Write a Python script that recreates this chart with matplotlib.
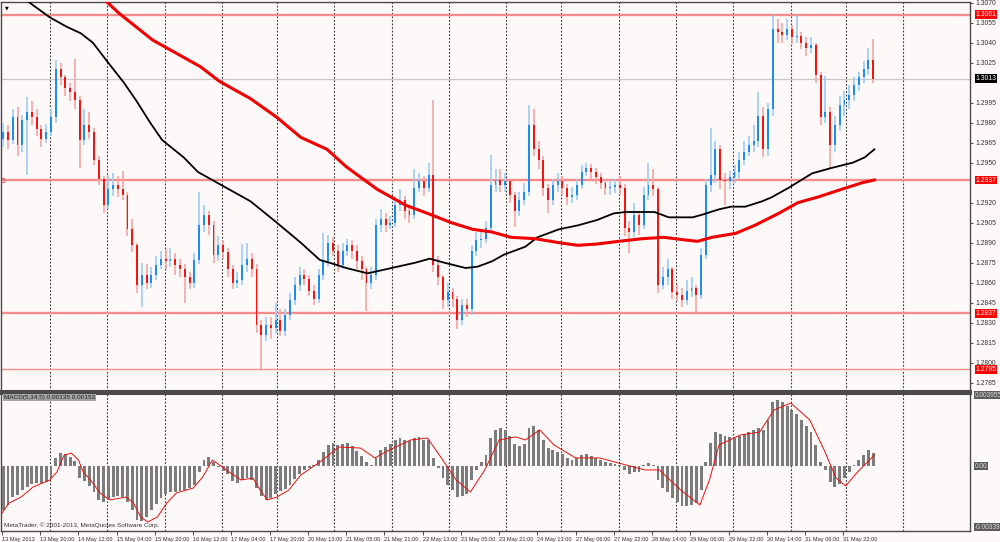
import numpy as np
import matplotlib.pyplot as plt
from matplotlib import font_manager
from matplotlib.transforms import blended_transform_factory

# EURUSD, 2-hour candles; prices in 1/10000
p_open = [12968, 12973, 12967, 12984, 12963, 12982, 12988, 12984, 12975, 12968,
          12973, 12984, 13020, 13014, 13006, 13003, 12997, 12967, 12978, 12973,
          12952, 12938, 12918, 12930, 12933, 12930, 12926, 12900, 12888, 12858,
          12866, 12860, 12866, 12873, 12878, 12876, 12878, 12873, 12870, 12864,
          12860, 12877, 12903, 12911, 12903, 12881, 12888, 12883, 12870, 12860,
          12862, 12873, 12878, 12870, 12828, 12821, 12828, 12826, 12832, 12824,
          12836, 12847, 12858, 12866, 12863, 12854, 12848, 12866, 12876, 12890,
          12884, 12873, 12884, 12888, 12884, 12876, 12870, 12860, 12866, 12903,
          12908, 12903, 12905, 12918, 12922, 12914, 12911, 12931, 12936, 12931,
          12941, 12873, 12864, 12847, 12853, 12848, 12832, 12843, 12840, 12884,
          12892, 12893, 12901, 12933, 12937, 12933, 12936, 12926, 12914, 12922,
          12928, 12978, 12960, 12952, 12931, 12922, 12933, 12936, 12931, 12924,
          12926, 12933, 12943, 12946, 12943, 12939, 12935, 12931, 12932, 12933,
          12931, 12901, 12898, 12911, 12903, 12926, 12933, 12930, 12858, 12864,
          12870, 12853, 12851, 12847, 12854, 12856, 12851, 12881, 12933, 12941,
          12960, 12937, 12936, 12939, 12943, 12952, 12958, 12963, 12966, 12985,
          12960, 12990, 13050, 13048, 13046, 13050, 13044, 13045, 13040, 13036,
          13038, 13016, 12984, 12988, 12963, 12978, 12993, 12997, 13001, 13008,
          13014, 13020, 13027]
p_high = [12980, 12978, 12990, 12992, 12986, 12999, 12996, 12990, 12978, 12979,
          12990, 13027, 13025, 13016, 13010, 13028, 13000, 12990, 12988, 12976,
          12955, 12940, 12941, 12942, 12940, 12944, 12928, 12908, 12890, 12875,
          12874, 12872, 12880, 12884, 12885, 12886, 12882, 12878, 12874, 12868,
          12882, 12928, 12918, 12914, 12906, 12895, 12892, 12886, 12873, 12868,
          12889, 12890, 12882, 12874, 12832, 12834, 12834, 12845, 12840, 12840,
          12852, 12864, 12872, 12870, 12866, 12858, 12870, 12897, 12896, 12894,
          12888, 12890, 12893, 12892, 12888, 12880, 12872, 12872, 12908, 12915,
          12912, 12910, 12925, 12930, 12925, 12918, 12945, 12942, 12940, 12950,
          12997, 12880, 12866, 12860, 12856, 12850, 12848, 12848, 12888, 12898,
          12900, 12906, 12956, 12945, 12945, 12942, 12938, 12928, 12928, 12935,
          12993, 12990, 12966, 12955, 12934, 12938, 12942, 12940, 12934, 12932,
          12938, 12948, 12950, 12949, 12946, 12942, 12938, 12937, 12938, 12940,
          12934, 12906, 12920, 12914, 12932, 12950, 12945, 12932, 12872, 12878,
          12872, 12858, 12856, 12862, 12864, 12858, 12886, 12938, 12976, 12966,
          12963, 12942, 12944, 12948, 12958, 12966, 12970, 12978, 13003, 12992,
          12995, 13061, 13058, 13055, 13058, 13053, 13061, 13048, 13044, 13044,
          13040, 13018, 13015, 12992, 12985, 13000, 13004, 13008, 13014, 13018,
          13026, 13036, 13043]
p_low = [12962, 12960, 12964, 12955, 12958, 12941, 12978, 12970, 12962, 12965,
         12970, 12980, 13008, 13000, 12996, 12990, 12946, 12963, 12968, 12948,
         12933, 12912, 12915, 12925, 12924, 12922, 12895, 12883, 12852, 12842,
         12855, 12856, 12862, 12870, 12870, 12872, 12866, 12864, 12845, 12855,
         12856, 12874, 12898, 12896, 12875, 12876, 12878, 12864, 12855, 12856,
         12858, 12868, 12864, 12822, 12795, 12816, 12818, 12822, 12820, 12820,
         12832, 12843, 12854, 12858, 12850, 12843, 12845, 12862, 12872, 12880,
         12868, 12870, 12880, 12878, 12870, 12862, 12839, 12855, 12862, 12898,
         12898, 12900, 12902, 12914, 12908, 12905, 12908, 12928, 12925, 12928,
         12868, 12858, 12840, 12842, 12842, 12825, 12828, 12834, 12836, 12880,
         12886, 12890, 12898, 12928, 12928, 12928, 12920, 12902, 12910, 12918,
         12925, 12955, 12945, 12925, 12912, 12918, 12928, 12926, 12918, 12920,
         12922, 12930, 12940, 12938, 12934, 12930, 12926, 12926, 12927, 12926,
         12895, 12882, 12894, 12896, 12900, 12922, 12925, 12852, 12855, 12858,
         12848, 12846, 12842, 12843, 12849, 12837, 12848, 12878, 12928, 12935,
         12930, 12918, 12930, 12935, 12938, 12948, 12955, 12958, 12962, 12954,
         12955, 12985, 13040, 13040, 13042, 13039, 13040, 13035, 13030, 13032,
         13010, 12978, 12980, 12946, 12958, 12974, 12985, 12990, 12996, 13004,
         13010, 13016, 13010]
p_close = [12973, 12967, 12984, 12963, 12982, 12988, 12984, 12975, 12968, 12973,
           12984, 13020, 13014, 13006, 13003, 12997, 12967, 12978, 12973, 12952,
           12938, 12918, 12930, 12933, 12930, 12926, 12900, 12888, 12858, 12866,
           12860, 12866, 12873, 12878, 12876, 12878, 12873, 12870, 12864, 12860,
           12877, 12903, 12911, 12903, 12881, 12888, 12883, 12870, 12860, 12862,
           12873, 12878, 12870, 12828, 12821, 12828, 12826, 12832, 12824, 12836,
           12847, 12858, 12866, 12863, 12854, 12848, 12866, 12876, 12890, 12884,
           12873, 12884, 12888, 12884, 12876, 12870, 12860, 12866, 12903, 12908,
           12903, 12905, 12918, 12922, 12914, 12911, 12931, 12936, 12931, 12941,
           12873, 12864, 12847, 12853, 12848, 12832, 12843, 12840, 12884, 12892,
           12893, 12901, 12933, 12937, 12933, 12936, 12926, 12914, 12922, 12928,
           12978, 12960, 12952, 12931, 12922, 12933, 12936, 12931, 12924, 12926,
           12933, 12943, 12946, 12943, 12939, 12935, 12931, 12932, 12933, 12931,
           12901, 12898, 12911, 12903, 12926, 12933, 12930, 12858, 12864, 12870,
           12853, 12851, 12847, 12854, 12856, 12851, 12881, 12933, 12941, 12960,
           12937, 12936, 12939, 12943, 12952, 12958, 12963, 12966, 12985, 12960,
           12990, 13050, 13048, 13046, 13050, 13044, 13045, 13040, 13036, 13038,
           13016, 12984, 12988, 12963, 12978, 12993, 12997, 13001, 13008, 13014,
           13020, 13027, 13013]

# moving averages (hour index, price 1/10000)
ma_black_h = [0, 10, 20, 27, 33, 38, 44, 51, 56, 62, 67, 76, 82, 88, 97, 104, 115, 125, 133, 137,
              144, 153, 163, 173, 179, 185, 194, 199, 205, 210, 219, 224, 233, 241, 249, 256, 261, 273, 279, 289,
              293, 300, 305, 311, 318, 322, 329, 339, 347, 356, 361, 365]
ma_black = [13082, 13072, 13059, 13052, 13047, 13040, 13026, 13010, 12997, 12980,
            12967, 12954, 12943, 12937, 12928, 12921, 12905, 12890, 12877, 12875,
            12871, 12867, 12871, 12875, 12878, 12875, 12871, 12872, 12876, 12881,
            12887, 12894, 12900, 12903, 12907, 12912, 12913, 12913, 12909, 12909,
            12911, 12915, 12917, 12917, 12921, 12924, 12931, 12942, 12946, 12950,
            12954, 12960]
ma_red_h = [37, 43, 49, 56, 63, 70, 77, 83, 91, 104, 115, 125, 136, 144, 157, 169, 178, 188, 197, 205,
            213, 223, 233, 241, 249, 258, 268, 277, 286, 291, 297, 307, 315, 325, 333, 341, 353, 360, 365]
ma_red = [13082, 13072, 13062, 13052, 13042, 13035, 13028, 13022, 13011, 12998,
          12984, 12969, 12960, 12947, 12930, 12918, 12912, 12905, 12900, 12898,
          12894, 12893, 12890, 12888, 12889, 12891, 12893, 12894, 12892, 12891,
          12894, 12897, 12903, 12912, 12920, 12924, 12931, 12935, 12937]

# MACD histogram per candle and signal line, units of 1e-5
macd_hist = [-245, -217, -173, -162, -134, -117, -100, -95, -95, -89,
             -61, 45, 72, 67, 50, 28, -67, -84, -111, -145,
             -189, -201, -184, -173, -167, -173, -201, -245, -301, -306,
             -284, -245, -212, -178, -156, -145, -145, -139, -134, -123,
             -106, -33, 33, 50, 22, -6, -28, -45, -84, -95,
             -78, -67, -78, -123, -167, -189, -178, -156, -139, -128,
             -106, -72, -45, -22, -11, 6, 33, 78, 117, 128,
             117, 123, 128, 111, 84, 56, 22, 6, 45, 89,
             106, 123, 145, 156, 145, 139, 156, 162, 145, 145,
             45, -11, -67, -106, -134, -173, -167, -156, -78, -22,
             22, 61, 156, 201, 212, 201, 167, 123, 111, 123,
             212, 223, 201, 145, 100, 89, 78, 67, 45, 33,
             45, 61, 67, 56, 45, 33, 22, 17, 11, 6,
             -22, -45, -33, -33, 6, 17, 6, -78, -123, -145,
             -178, -201, -223, -223, -217, -206, -134, 22, 128, 189,
             178, 167, 162, 156, 167, 178, 189, 201, 212, 201,
             256, 356, 368, 356, 334, 312, 290, 256, 223, 189,
             117, 22, -22, -89, -117, -100, -67, -33, 6, 33,
             61, 89, 72]
signal_h = [0, 3, 8, 13, 20, 23, 26, 29, 32, 34, 37, 41, 45, 52, 55, 58, 61, 65, 69, 73,
            80, 84, 88, 91, 95, 100, 105, 108, 111, 115, 120, 125, 133, 141, 150, 156, 162, 171, 178, 183,
            190, 196, 202, 208, 215, 219, 225, 231, 240, 250, 261, 269, 275, 284, 292, 296, 300, 309, 317, 323,
            330, 338, 344, 349, 353, 358, 365]
signal = [-262, -206, -173, -117, -78, -33, 61, 72, 33, -33,
          -78, -150, -189, -173, -206, -284, -312, -284, -206, -150,
          -123, -61, 33, 6, -33, -78, -67, -134, -189, -173,
          -134, -50, 22, 106, 100, 45, 89, 145, 156, 61,
          -78, -145, -22, 145, 162, 145, 201, 117, 45, 45,
          6, -22, -22, -134, -217, -78, 117, 173, 189, 312,
          351, 256, 89, -67, -111, -33, 61]

time_labels = ["13 May 2013", "13 May 20:00", "14 May 12:00", "15 May 04:00", "15 May 20:00",
               "16 May 12:00", "17 May 04:00", "17 May 20:00", "20 May 13:00", "21 May 05:00",
               "21 May 21:00", "22 May 13:00", "23 May 05:00", "23 May 21:00", "24 May 13:00",
               "27 May 06:00", "27 May 22:00", "28 May 14:00", "29 May 06:00", "29 May 22:00",
               "30 May 14:00", "31 May 06:00", "31 May 22:00"]
grid_h = [20, 44, 68, 92, 115, 139, 163, 187, 211, 234, 258, 282, 306, 330, 353, 377]
price_ticks = [1.3070, 1.3055, 1.3040, 1.3025, 1.2995, 1.2980, 1.2965, 1.2950, 1.2920,
               1.2905, 1.2890, 1.2875, 1.2860, 1.2845, 1.2830, 1.2815, 1.2800, 1.2785]

levels_red = [1.3061, 1.2937, 1.2837, 1.2795]
bid = 1.3013

BG = '#fdf9f8'
FRAME = '#4a4a4a'
FS = 4.9
plt.rcParams['font.family'] = ['Liberation Sans', 'DejaVu Sans']

# narrow face for the crowded time scale, if there is one
installed = {f.name for f in font_manager.fontManager.ttflist}
if 'Liberation Sans Narrow' in installed:
    time_font, time_fs = ['Liberation Sans Narrow'], 5.2
else:
    time_font, time_fs = ['Liberation Sans'], 4.1

fig = plt.figure(figsize=(10, 5.42), dpi=100, facecolor=BG)
ax1 = fig.add_axes([0.001, 1 - 391 / 542, 0.969, 389 / 542], facecolor=BG)
ax2 = fig.add_axes([0.001, 1 - 531 / 542, 0.969, 138 / 542], facecolor=BG)

xmin, xmax = (1 - 2) / 2.39, (970 - 2) / 2.39

# candles
o = np.array(p_open) / 1e4
h = np.array(p_high) / 1e4
l = np.array(p_low) / 1e4
c = np.array(p_close) / 1e4
x = np.arange(len(c)) * 2 + 0.5
up = c >= o
wick_col = np.where(up, '#9fcbf3', '#f6a4a4')
body_col = np.where(up, '#1e8cf5', '#f51414')

for ax in (ax1, ax2):
    for g in grid_h:
        ax.axvline(g, color='#3a3a3a', lw=0.8, ls=(0, (1.6, 1.6)), zorder=0.5)

for lv in levels_red:
    ax1.axhline(lv, color='#f58c8c', lw=1.7 if lv != 1.2795 else 1.0, zorder=1)
ax1.axhline(bid, color='#c8c8c8', lw=0.9, zorder=1)
ax1.plot([0.2], [1.2937], marker='s', ms=2.5, mfc='none', mec='#f07070', mew=0.8, zorder=2)

ax1.vlines(x, l, h, colors=wick_col, lw=1.2, zorder=3)
ax1.bar(x, np.maximum(np.abs(c - o), 0.00008), bottom=np.minimum(o, c), width=0.8,
        color=body_col, linewidth=0, zorder=4)

ax1.plot(ma_black_h, np.array(ma_black) / 1e4, color='black', lw=1.3, zorder=5)
ax1.plot(ma_red_h, np.array(ma_red) / 1e4, color='#f00000', lw=2.2, zorder=5)

ax1.set_xlim(xmin, xmax)
ax1.set_ylim((13072 - 0.75 * 391) / 1e4, (13072 - 0.75 * 2) / 1e4)
ax1.set_xticks([])
ax1.yaxis.tick_right()
ax1.set_yticks(price_ticks)
ax1.yaxis.set_major_formatter(plt.FormatStrFormatter('%.4f'))
ax1.tick_params(axis='y', labelsize=FS, length=2, width=0.6, pad=2, colors='#333333')

tr1 = blended_transform_factory(ax1.transAxes, ax1.transData)
for lv in levels_red:
    ax1.text(1.006, lv, '%.4f' % lv, transform=tr1, ha='left', va='center', fontsize=FS,
             color='white', clip_on=False, zorder=10,
             bbox=dict(facecolor='#ff0000', edgecolor='none', pad=0.5))
ax1.text(1.006, bid, '%.4f' % bid, transform=tr1, ha='left', va='center', fontsize=FS,
         color='white', clip_on=False, zorder=10,
         bbox=dict(facecolor='black', edgecolor='none', pad=0.5))
ax1.text(0.004, 0.99, '\u25bc', transform=ax1.transAxes, fontsize=3.5, ha='left', va='top',
         family='DejaVu Sans')

# MACD panel
ax2.bar(x, np.array(macd_hist) / 1e5, width=1.2, color='#7c7c7c', linewidth=0, zorder=3)
ax2.plot(signal_h, np.array(signal) / 1e5, color='#e81010', lw=0.7, zorder=4)
ax2.set_xlim(xmin, xmax)
ax2.set_ylim(-0.0036205, 0.0040661)
ax2.set_yticks([])
ax2.set_xticks(np.arange(len(time_labels)) * 16)
ax2.set_xticklabels(time_labels, ha='left', family=time_font)
ax2.tick_params(axis='x', labelsize=time_fs, length=3, width=0.6, pad=1, colors='#333333')

tr2 = blended_transform_factory(ax2.transAxes, ax2.transData)
for val, txt in [(0.00395, '0.003955'), (0.0, '0.00'), (-0.0034, '-0.00339')]:
    ax2.text(1.005, val, txt, transform=tr2, ha='left', va='center', fontsize=4.7,
             color='#dddddd', clip_on=False, zorder=10,
             bbox=dict(facecolor='#5c5c5c', edgecolor='none', pad=0.4))
ax2.text(0.003, 0.985, 'MACD(5,34,5) 0.00135 0.00153', transform=ax2.transAxes, fontsize=4.6,
         color='#222222', ha='left', va='top',
         bbox=dict(facecolor='#a4a4a4', edgecolor='none', pad=0.6))
ax2.text(0.003, 0.025, 'MetaTrader, \u00a9 2001-2013, MetaQuotes Software Corp.',
         transform=ax2.transAxes, fontsize=4.6, color='#333333', ha='left', va='bottom')

for ax in (ax1, ax2):
    for s in ax.spines.values():
        s.set_color(FRAME)
        s.set_linewidth(1.0)
ax1.spines['bottom'].set_linewidth(2.2)
ax2.spines['top'].set_linewidth(2.2)

fig.savefig('out.png', dpi=100, facecolor=BG)
